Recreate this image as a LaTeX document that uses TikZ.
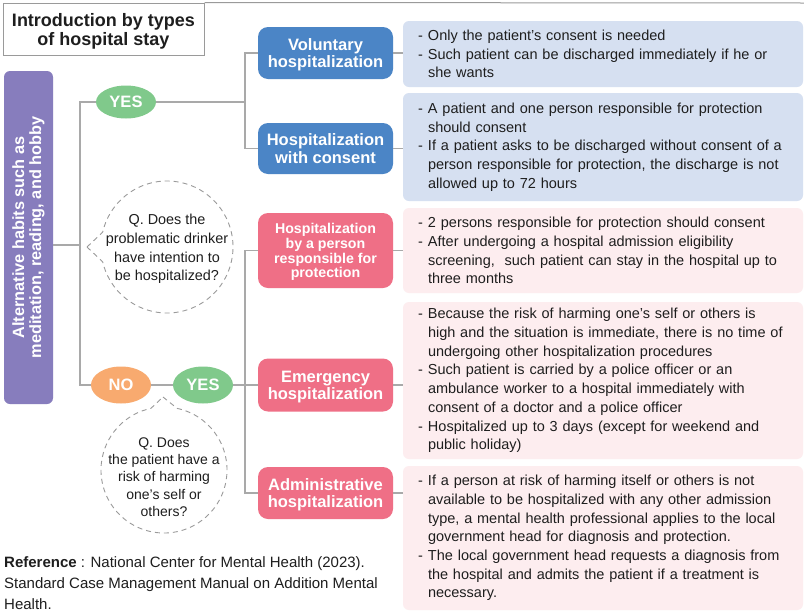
\documentclass[tikz,border=0pt]{standalone}
\usepackage{fontspec}
\setmainfont{Liberation Sans}
\usetikzlibrary{calc,shapes.geometric}
\definecolor{hblue}{HTML}{4B85C6}
\definecolor{lblue}{HTML}{D6E0F1}
\definecolor{hpink}{HTML}{EF6F86}
\definecolor{lpink}{HTML}{FDEDEF}
\definecolor{hpurple}{HTML}{877DBD}
\definecolor{hgreen}{HTML}{80C98B}
\definecolor{horange}{HTML}{F8AA6F}
\definecolor{linegray}{HTML}{A9A9A9}
\definecolor{bubblegray}{HTML}{9A9A9A}
\definecolor{textdark}{HTML}{1E1E1E}
\newcommand{\dashitem}[1]{\makebox[10pt][l]{-}#1}
\newcommand{\dashcont}[1]{\hspace*{10pt}#1}
\begin{document}
\begin{tikzpicture}[x=1pt,y=-1pt,
  conn/.style={draw=linegray, line width=1.3pt},
  hbox/.style={rectangle, rounded corners=10pt, minimum width=135pt, text=white, text depth=0pt,
    font=\bfseries\fontsize{16.5}{17.5}\selectfont, align=center, inner sep=2pt},
  descbox/.style={rectangle, rounded corners=6pt, minimum width=400pt, text width=370pt,
    inner xsep=15pt, inner ysep=0pt, align=left, font=\fontsize{14.5}{18.7}\selectfont, text=textdark},
  oval/.style={ellipse, minimum width=60pt, text=white, font=\bfseries\fontsize{16.5}{18}\selectfont, inner sep=0pt},
  bubble/.style={draw=bubblegray, dash pattern=on 5pt off 4pt, line width=0.9pt},
  qtext/.style={align=center, text=textdark, inner sep=0pt}
]
\useasboundingbox (0,0) rectangle (804,611);
\fill[white] (0,0) rectangle (804,611);

% title
\node[draw=bubblegray, line width=1pt, fill=white, minimum width=201pt, minimum height=52pt, text depth=0pt,
  align=center, font=\bfseries\fontsize{18}{19}\selectfont, text=textdark] (title) at (103.5,29)
  {Introduction by types\\of hospital stay};
\coordinate (topend) at (804,3);
\draw[draw=bubblegray, line width=1pt] (title.north east) -- (topend);

% purple
\node[rectangle, rounded corners=6pt, fill=hpurple, rotate=90, minimum width=333pt, minimum height=49pt,
  text=white, align=center, font=\bfseries\fontsize{16.3}{17}\selectfont, inner sep=0pt] (alt) at (28.5,237.5)
  {Alternative habits such as\\meditation, reading, and hobby};

% ovals
\node[oval, fill=hgreen, minimum height=33pt] (yes1) at (126,102) {YES};
\node[oval, fill=horange, minimum height=37pt] (no) at (121,385) {NO};
\node[oval, fill=hgreen, minimum height=37pt] (yes2) at (203,385) {YES};

% hospitalization boxes
\node[hbox, fill=hblue, minimum height=52pt] (vol) at (325.5,53) {Voluntary\\hospitalization};
\node[hbox, fill=hblue, minimum height=51pt] (cons) at (325.5,148.5) {Hospitalization\\with consent};
\node[hbox, fill=hpink, minimum height=75pt, font=\bfseries\fontsize{14.2}{14.7}\selectfont] (pers) at (325.5,250.5)
  {Hospitalization\\by a person\\responsible for\\protection};
\node[hbox, fill=hpink, minimum height=53pt, font=\bfseries\fontsize{16.5}{17}\selectfont] (emer) at (325.5,385) {Emergency\\hospitalization};
\node[hbox, fill=hpink, minimum height=52pt, font=\bfseries\fontsize{16.5}{17}\selectfont] (adm) at (325.5,493) {Administrative\\hospitalization};

% description boxes
\node[descbox, fill=lblue, minimum height=66pt] (d1) at (603,54) {%
\dashitem{Only the patient’s consent is needed}\\
\dashitem{Such patient can be discharged immediately if he or}\\
\dashcont{she wants}};
\node[descbox, fill=lblue, minimum height=108pt] (d2) at (603,147) {%
\dashitem{A patient and one person responsible for protection}\\
\dashcont{should consent}\\
\dashitem{If a patient asks to be discharged without consent of a}\\
\dashcont{person responsible for protection, the discharge is not}\\
\dashcont{allowed up to 72 hours}};
\node[descbox, fill=lpink, minimum height=85pt] (d3) at (603,250.5) {%
\dashitem{2 persons responsible for protection should consent}\\
\dashitem{After undergoing a hospital admission eligibility}\\
\dashcont{screening,\ \ such patient can stay in the hospital up to}\\
\dashcont{three months}};
\node[descbox, fill=lpink, minimum height=157pt] (d4) at (603,380.5) {%
\dashitem{Because the risk of harming one’s self or others is}\\
\dashcont{high and the situation is immediate, there is no time of}\\
\dashcont{undergoing other hospitalization procedures}\\
\dashitem{Such patient is carried by a police officer or an}\\
\dashcont{ambulance worker to a hospital immediately with}\\
\dashcont{consent of a doctor and a police officer}\\
\dashitem{Hospitalized up to 3 days (except for weekend and}\\
\dashcont{public holiday)}};
\node[descbox, fill=lpink, minimum height=144pt] (d5) at (603,538) {%
\dashitem{If a person at risk of harming itself or others is not}\\
\dashcont{available to be hospitalized with any other admission}\\
\dashcont{type, a mental health professional applies to the local}\\
\dashcont{government head for diagnosis and protection.}\\
\dashitem{The local government head requests a diagnosis from}\\
\dashcont{the hospital and admits the patient if a treatment is}\\
\dashcont{necessary.}};

% connectors
\coordinate (tl) at (80,245);
\coordinate (ta) at (245,102);
\coordinate (tb) at (245,385);
\draw[conn] (alt.south |- tl) -- (tl);
\draw[conn] (yes1.west) -| (tl) |- (no.west);
\draw[conn] (no.east) -- (yes2.west);
\draw[conn] (yes1.east) -- (ta);
\draw[conn] (vol.west) -| (ta) |- (cons.west);
\draw[conn] (yes2.east) -- (tb);
\draw[conn] (pers.west) -| (tb) |- (adm.west);
\draw[conn] (tb) -- (emer.west);
\draw[conn] (vol.east) -- (vol.east -| d1.west);
\draw[conn] (cons.east) -- (cons.east -| d2.west);
\draw[conn] (pers.east) -- (pers.east -| d3.west);
\draw[conn] (emer.east) -- (emer.east -| d4.west);
\draw[conn] (adm.east) -- (adm.east -| d5.west);

% bubbles
\coordinate (c1) at (167,247);
\coordinate (p1tip) at (87,247);
\draw[bubble] (p1tip) -- ($(c1)+(193:66)$) arc[start angle=193, end angle=527, radius=66] -- cycle;
\node[qtext, font=\fontsize{14.4}{18.8}\selectfont] (q1) at (167,249)
  {Q. Does the\\problematic drinker\\have intention to\\be hospitalized?};
\coordinate (c2) at (164,470);
\coordinate (p2tip) at (163,397);
\draw[bubble] (p2tip) -- ($(c2)+(282:63)$) arc[start angle=282, end angle=618, radius=63] -- cycle;
\node[qtext, font=\fontsize{14}{17.3}\selectfont] (q2) at (164,477)
  {Q. Does\\the patient have a\\risk of harming\\one’s self or\\others?};

% reference
\node[anchor=base west, align=left, inner sep=0pt, text=textdark, font=\fontsize{15}{21}\selectfont] (ref) at (4,609)
  {\textbf{Reference} : National Center for Mental Health (2023).\\
   Standard Case Management Manual on Addition Mental\\Health.};
\end{tikzpicture}
\end{document}
